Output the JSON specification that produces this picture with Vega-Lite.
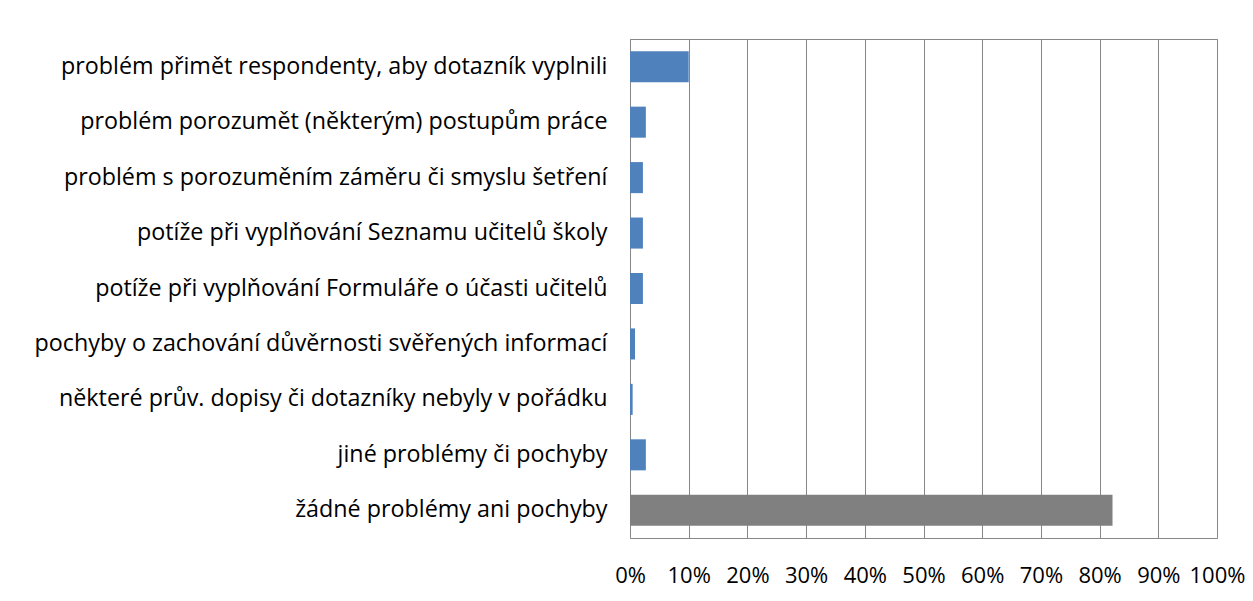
{
  "$schema": "https://vega.github.io/schema/vega-lite/v6.json",
  "autosize": "none",
  "width": 587,
  "height": 499,
  "padding": {"left": 630, "top": 39, "right": 36, "bottom": 63},
  "background": "white",
  "data": {
    "values": [
      {"polozka": "problém přimět respondenty, aby dotazník vyplnili", "podil": 0.100, "typ": "problem"},
      {"polozka": "problém porozumět (některým) postupům práce", "podil": 0.027, "typ": "problem"},
      {"polozka": "problém s porozuměním záměru či smyslu šetření", "podil": 0.022, "typ": "problem"},
      {"polozka": "potíže při vyplňování Seznamu učitelů školy", "podil": 0.022, "typ": "problem"},
      {"polozka": "potíže při vyplňování Formuláře o účasti učitelů", "podil": 0.022, "typ": "problem"},
      {"polozka": "pochyby o zachování důvěrnosti svěřených informací", "podil": 0.0085, "typ": "problem"},
      {"polozka": "některé prův. dopisy či dotazníky nebyly v pořádku", "podil": 0.0045, "typ": "problem"},
      {"polozka": "jiné problémy či pochyby", "podil": 0.027, "typ": "problem"},
      {"polozka": "žádné problémy ani pochyby", "podil": 0.822, "typ": "zadne"}
    ]
  },
  "mark": {"type": "bar"},
  "encoding": {
    "y": {
      "field": "polozka",
      "type": "nominal",
      "sort": null,
      "scale": {"paddingInner": 0.44, "paddingOuter": 0.22},
      "axis": {
        "title": null,
        "domain": false,
        "ticks": false,
        "grid": false,
        "labelPadding": 23,
        "labelLimit": 700,
        "labelFont": "Open Sans",
        "labelFontSize": 23.3,
        "labelColor": "#000000"
      }
    },
    "x": {
      "field": "podil",
      "type": "quantitative",
      "scale": {"domain": [0, 1], "nice": false},
      "axis": {
        "title": null,
        "format": ".0%",
        "values": [0, 0.1, 0.2, 0.3, 0.4, 0.5, 0.6, 0.7, 0.8, 0.9, 1],
        "domain": false,
        "ticks": false,
        "grid": true,
        "gridColor": "#878787",
        "gridWidth": 1,
        "gridOpacity": 1,
        "labelPadding": 27,
        "labelFont": "Open Sans",
        "labelFontSize": 22,
        "labelColor": "#000000",
        "labelFlush": false
      }
    },
    "color": {
      "field": "typ",
      "type": "nominal",
      "scale": {"domain": ["problem", "zadne"], "range": ["#4F81BD", "#808080"]},
      "legend": null
    }
  },
  "config": {
    "view": {"stroke": "#878787", "strokeWidth": 1}
  }
}
